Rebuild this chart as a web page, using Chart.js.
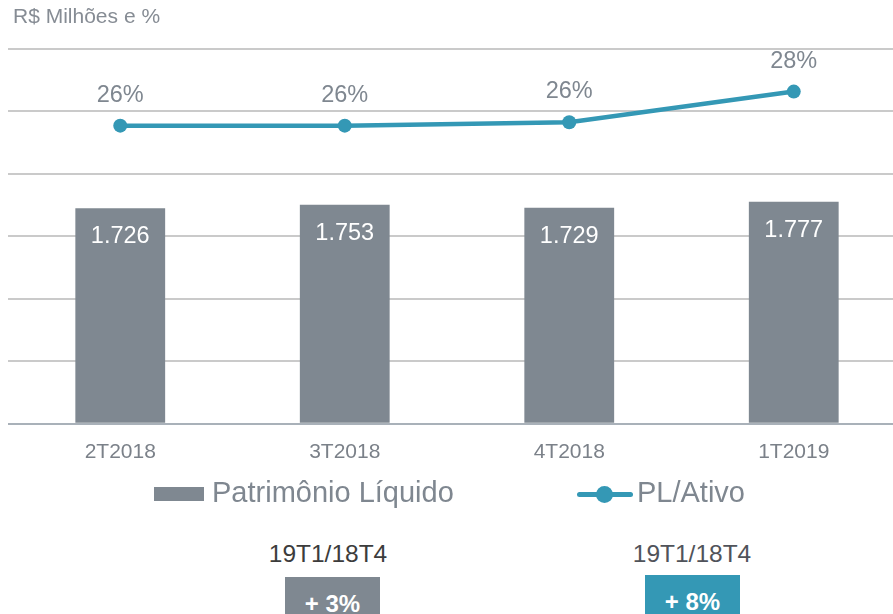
<!DOCTYPE html>
<html>
<head>
<meta charset="utf-8">
<script src="https://cdn.jsdelivr.net/npm/chart.js@4"></script>
<style>
  html, body { margin: 0; padding: 0; background: #fff; overflow: hidden; width: 893px; height: 614px; }
  body { position: relative; font-family: "Liberation Sans", Arial, sans-serif; }
  #wrap { position: absolute; left: 0; top: 0; width: 913px; height: 489px; }
  .txt { position: absolute; white-space: nowrap; line-height: 1; }
  #title { left: 13px; top: 5px; font-size: 21px; color: #868c94; }
  .legtext { top: 478px; font-size: 29px; color: #7f8790; }
  #legBar { position: absolute; left: 154px; top: 487px; width: 50px; height: 14px; background: #7f8891; }
  #legLine { position: absolute; left: 577px; top: 492px; width: 56px; height: 5px; border-radius: 3px; background: #3498b5; }
  #legDot { position: absolute; left: 596px; top: 486px; width: 17px; height: 17px; border-radius: 50%; background: #3498b5; }
  .cmp { font-size: 24.5px; text-align: center; width: 140px; top: 542px; }
  .box { position: absolute; width: 95px; height: 40px; color: #fff; font-weight: bold; font-size: 24px; text-align: center; line-height: 1; }
  .box span { position: absolute; left: 0; right: 0; top: 15px; }
</style>
</head>
<body>
<div id="wrap"><canvas id="chart"></canvas></div>

<div id="title" class="txt">R$ Milhões e %</div>

<div id="legBar"></div>
<div class="txt legtext" style="left:212px;">Patrimônio Líquido</div>
<div id="legLine"></div>
<div id="legDot"></div>
<div class="txt legtext" style="left:637px;">PL/Ativo</div>

<div class="txt cmp" style="left:258px; color:#3c3c3c;">19T1/18T4</div>
<div class="box" style="left:285px; top:577px; background:#7f8891;"><span>+ 3%</span></div>
<div class="txt cmp" style="left:622px; color:#50535a;">19T1/18T4</div>
<div class="box" style="left:645px; top:575px; background:#3498b5;"><span>+ 8%</span></div>

<script>
/* ---------- data ---------- */
const categories = ["2T2018", "3T2018", "4T2018", "1T2019"];
const patrimonio = [1726, 1753, 1729, 1777];   // R$ milhões
const plAtivo = [26.0, 26.0, 26.2, 28.0];       // %

const BAR_COLOR = "#7f8891";
const LINE_COLOR = "#3498b5";
const FONT = "'Liberation Sans', Arial, sans-serif";

function fmtMil(v) {
    return String(v).replace(/\B(?=(\d{3})+(?!\d))/g, ".");
}

/* ---------- value labels ---------- */
const valueLabels = {
    id: "valueLabels",
    afterDatasetsDraw(chart) {
        const ctx = chart.ctx;
        ctx.save();
        ctx.textAlign = "center";
        ctx.textBaseline = "alphabetic";

        // bar labels, inside near top
        ctx.font = "23.5px " + FONT;
        ctx.fillStyle = "#ffffff";
        chart.getDatasetMeta(0).data.forEach((el, i) => {
            ctx.fillText(fmtMil(patrimonio[i]), el.x, el.y + 35);
        });

        // line labels, above points
        ctx.font = "23.5px " + FONT;
        ctx.fillStyle = "#7f8790";
        chart.getDatasetMeta(1).data.forEach((el, i) => {
            ctx.fillText(Math.round(plAtivo[i]) + "%", el.x, el.y - 24);
        });
        ctx.restore();
    }
};

new Chart(document.getElementById("chart"), {
    data: {
        labels: categories,
        datasets: [
            {
                type: "bar",
                label: "Patrimônio Líquido",
                data: patrimonio,
                backgroundColor: BAR_COLOR,
                barPercentage: 0.4,
                categoryPercentage: 1,
                yAxisID: "y",
                order: 1
            },
            {
                type: "line",
                label: "PL/Ativo",
                data: plAtivo,
                borderColor: LINE_COLOR,
                backgroundColor: LINE_COLOR,
                borderWidth: 4.5,
                pointRadius: 7,
                pointHoverRadius: 7,
                pointBackgroundColor: LINE_COLOR,
                pointBorderWidth: 0,
                tension: 0,
                yAxisID: "y1",
                order: 0
            }
        ]
    },
    options: {
        responsive: true,
        maintainAspectRatio: false,
        animation: false,
        layout: { padding: { left: 8, right: 4, top: 49, bottom: 8 } },
        plugins: {
            legend: { display: false },
            tooltip: { enabled: false }
        },
        scales: {
            x: {
                offset: true,
                grid: { display: false, drawTicks: false },
                border: { display: false },
                ticks: {
                    padding: 16,
                    color: "#7b8189",
                    font: { family: FONT, size: 21 }
                }
            },
            y: {
                min: 0,
                max: 3000,
                ticks: { display: false, stepSize: 500 },
                border: { display: false },
                grid: {
                    drawTicks: false,
                    lineWidth: 2,
                    color: c => c.tick && c.tick.value === 0 ? "#a9b1b9" : "#cacaca"
                }
            },
            y1: {
                display: false,
                min: 8.5,
                max: 30.5
            }
        }
    },
    plugins: [valueLabels]
});
</script>
</body>
</html>
